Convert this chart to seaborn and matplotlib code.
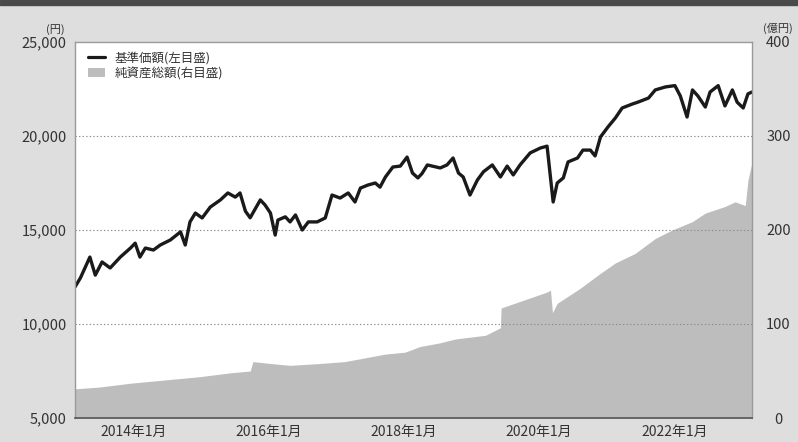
import matplotlib
matplotlib.use("Agg")
import matplotlib.pyplot as plt
import seaborn as sns
import numpy as np
from matplotlib.lines import Line2D
from matplotlib.patches import Patch, Rectangle

# ---- data (decimal years) ----
price_t = [2013.14, 2013.22, 2013.36, 2013.44, 2013.54, 2013.66, 2013.81, 2013.96, 2014.03, 2014.10,
           2014.18, 2014.30, 2014.40, 2014.55, 2014.70, 2014.77, 2014.84, 2014.92, 2015.02, 2015.14,
           2015.29, 2015.40, 2015.51, 2015.58, 2015.66, 2015.73, 2015.88, 2015.95, 2016.03, 2016.10,
           2016.14, 2016.25, 2016.32, 2016.40, 2016.50, 2016.59, 2016.72, 2016.84, 2016.94, 2017.06,
           2017.18, 2017.28, 2017.36, 2017.47, 2017.58, 2017.65, 2017.73, 2017.84, 2017.95, 2018.05,
           2018.13, 2018.21, 2018.27, 2018.35, 2018.54, 2018.64, 2018.73, 2018.81, 2018.88, 2018.98,
           2019.09, 2019.18, 2019.31, 2019.43, 2019.53, 2019.62, 2019.72, 2019.87, 2020.02, 2020.12,
           2020.21, 2020.27, 2020.36, 2020.43, 2020.57, 2020.65, 2020.76, 2020.83, 2020.91, 2021.02,
           2021.13, 2021.23, 2021.38, 2021.47, 2021.62, 2021.72, 2021.87, 2022.01, 2022.09, 2022.19,
           2022.27, 2022.35, 2022.46, 2022.53, 2022.65, 2022.75, 2022.86, 2022.93, 2023.02, 2023.09,
           2023.15]
price = [11970, 12450, 13560, 12600, 13300, 12980, 13560, 14040, 14300, 13560,
         14040, 13935, 14200, 14470, 14900, 14200, 15430, 15900, 15640, 16220,
         16600, 16970, 16750, 16970, 16000, 15650, 16600, 16330, 15900, 14730,
         15530, 15700, 15430, 15800, 15000, 15430, 15430, 15640, 16860, 16700,
         16970, 16490, 17230, 17390, 17500, 17280, 17820, 18350, 18400, 18880,
         18030, 17770, 18000, 18460, 18300, 18460, 18830, 18030, 17820, 16860,
         17660, 18100, 18460, 17820, 18400, 17930, 18460, 19100, 19360, 19460,
         16490, 17500, 17770, 18620, 18830, 19250, 19250, 18940, 19950, 20480,
         20960, 21490, 21700, 21810, 22020, 22450, 22610, 22680, 22130, 21010,
         22450, 22130, 21540, 22340, 22680, 21600, 22450, 21800, 21490, 22240,
         22340]

nav_t = [2013.14, 2013.51, 2013.96, 2014.40, 2014.99, 2015.43, 2015.73, 2015.77, 2016.03, 2016.32,
         2016.77, 2017.13, 2017.43, 2017.73, 2018.02, 2018.24, 2018.54, 2018.76, 2018.98, 2019.21,
         2019.43, 2019.44, 2019.72, 2020.12, 2020.17, 2020.20, 2020.27, 2020.61, 2020.91, 2021.13,
         2021.42, 2021.72, 2021.97, 2022.27, 2022.46, 2022.75, 2022.90, 2023.05, 2023.09, 2023.15]
nav = [31, 33, 37, 40, 44, 48, 50, 60, 58, 56,
       58, 60, 64, 68, 70, 76, 80, 84, 86, 88,
       96, 117, 124, 134, 136, 112, 122, 138, 154, 165,
       175, 191, 200, 209, 218, 225, 230, 226, 253, 272]

xtick_years = [2014, 2016, 2018, 2020, 2022]
xtick_labels = ["2014年1月", "2016年1月", "2018年1月", "2020年1月", "2022年1月"]
left_ticks = [5000, 10000, 15000, 20000, 25000]
right_ticks = [0, 100, 200, 300, 400]
legend_labels = ["基準価額(左目盛)", "純資産総額(右目盛)"]

sns.set_theme(style="white")
plt.rcParams['font.family'] = ['Noto Sans CJK JP', 'DejaVu Sans']

BG = '#dedede'
fig = plt.figure(figsize=(7.98, 4.42), dpi=100, facecolor=BG)
fig.patches.append(Rectangle((0, 1 - 5 / 442), 1, 5 / 442, transform=fig.transFigure,
                             color='#4a4a4a', zorder=0))

ax = fig.add_axes([75 / 798, 1 - 418 / 442, (752 - 75) / 798, (418 - 42) / 442])
ax2 = ax.twinx()
ax.set_zorder(ax2.get_zorder() + 1)
ax.patch.set_visible(False)
ax2.patch.set_facecolor('white')
ax2.patch.set_visible(True)

ax2.fill_between(nav_t, nav, 0, color='#bdbdbd', lw=0)
sns.lineplot(x=price_t, y=price, ax=ax, color='#1a1a1a', lw=2.4, legend=False)

ax.set_xlim(2013.14, 2023.15)
ax.set_ylim(5000, 25000)
ax2.set_ylim(0, 400)

for v in [10000, 15000, 20000]:
    ax.axhline(v, color='#8a8a8a', lw=0.8, ls=(0, (1.2, 2.0)), zorder=1)

ax.set_xticks(xtick_years)
ax.set_xticklabels(xtick_labels, fontsize=10, color='#333333')
ax.tick_params(axis='x', direction='in', length=4, width=0.8, color='#555555', pad=5)

ax.set_yticks(left_ticks)
ax.set_yticklabels([f"{v:,}" for v in left_ticks], fontsize=10.5, color='#333333')
ax.tick_params(axis='y', length=0, pad=6)

ax2.set_yticks(right_ticks)
ax2.set_yticklabels([str(v) for v in right_ticks], fontsize=10.5, color='#333333')
ax2.tick_params(axis='y', length=0, pad=19)
for lab in ax2.get_yticklabels():
    lab.set_horizontalalignment('center')

ax.set_xlabel("")
ax.set_ylabel("")
for s in ['left', 'top', 'right']:
    ax.spines[s].set_color('#9a9a9a')
    ax.spines[s].set_linewidth(1.0)
ax.spines['bottom'].set_color('#555555')
ax.spines['bottom'].set_linewidth(1.2)
for s in ax2.spines.values():
    s.set_visible(False)

handles = [Line2D([0], [0], color='#1a1a1a', lw=2.3),
           Patch(facecolor='#bdbdbd', edgecolor='none')]
leg = ax.legend(handles, legend_labels, loc='upper left', frameon=False, fontsize=9,
                handlelength=1.3, handleheight=0.8, handletextpad=0.8, labelspacing=0.15,
                borderaxespad=0.4, bbox_to_anchor=(0.005, 1.0))
for t in leg.get_texts():
    t.set_color('#333333')

fig.text(55 / 798, 1 - 30 / 442, "(円)", fontsize=8, color='#333333', ha='center', va='center')
fig.text(778 / 798, 1 - 28 / 442, "(億円)", fontsize=8, color='#333333', ha='center', va='center')

fig.savefig("out.png", dpi=100, facecolor=BG)
